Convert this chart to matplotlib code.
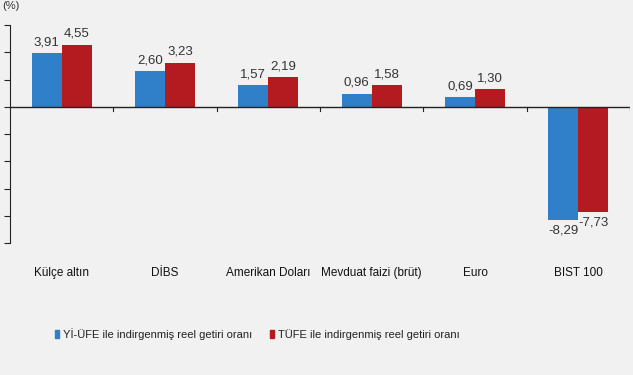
import matplotlib
matplotlib.use("Agg")
import matplotlib.pyplot as plt
import numpy as np

plt.rcParams["font.family"] = ["Liberation Sans", "DejaVu Sans"]

# ─── DATA ────────────────────────────────────────────────────────────────────
categories = ["Külçe altın", "DİBS", "Amerikan Doları", "Mevduat faizi (brüt)", "Euro", "BIST 100"]
yi_ufe = [3.91, 2.60, 1.57, 0.96, 0.69, -8.29]
tufe = [4.55, 3.23, 2.19, 1.58, 1.30, -7.73]
legend_labels = ["Yİ-ÜFE ile indirgenmiş reel getiri oranı", "TÜFE ile indirgenmiş reel getiri oranı"]

BG = "#f1f1f1"
BLUE = "#2f80c9"
RED = "#b31b20"
TXT = "#333333"

fig = plt.figure(figsize=(6.33, 3.75), dpi=100, facecolor=BG)
ax = fig.add_axes([10 / 633, 1 - 243 / 375, 620 / 633, 218 / 375], facecolor=BG)

x = np.arange(len(categories))
w = 0.29
b1 = ax.bar(x - w / 2, yi_ufe, w, color=BLUE, zorder=2)
b2 = ax.bar(x + w / 2, tufe, w, color=RED, zorder=2)

for bars, vals in ((b1, yi_ufe), (b2, tufe)):
    for bar, v in zip(bars, vals):
        cx = bar.get_x() + bar.get_width() / 2
        lab = f"{v:.2f}".replace(".", ",")
        if v >= 0:
            ax.text(cx, v + 0.35, lab, ha="center", va="bottom", fontsize=9.5, color=TXT)
        else:
            ax.text(cx, v - 0.35, lab, ha="center", va="top", fontsize=9.5, color=TXT)

ax.set_xlim(-0.5, len(categories) - 0.5)
ax.set_ylim(-10, 6)
ax.set_yticks(np.arange(-10, 7, 2))
# the tick labels sit off the left edge in the reference, so they are not drawn
ax.tick_params(axis="y", length=4, color="#222222", labelleft=False)
for s in ("top", "right", "bottom"):
    ax.spines[s].set_visible(False)
ax.spines["left"].set_color("#222222")

# zero line with ticks at the category boundaries
ax.axhline(0, color="#222222", lw=1.0, zorder=3)
for bx in np.arange(0.5, len(categories), 1.0):
    ax.plot([bx, bx], [0, -0.3], color="#222222", lw=0.8, zorder=3)
ax.set_xticks([])

# category names well below the plot
for xi, name in zip(x, categories):
    ax.text(xi, -12.2, name, ha="center", va="center", fontsize=8.5, color="#111111",
            clip_on=False)

fig.text(0.004, 0.997, "(%)", ha="left", va="top", fontsize=8, color=TXT)

# legend
h = [plt.Rectangle((0, 0), 1, 1, color=BLUE), plt.Rectangle((0, 0), 1, 1, color=RED)]
fig.legend(h, legend_labels, loc="lower left", bbox_to_anchor=(45 / 633, 1 - 350 / 375),
           ncol=2, frameon=False, fontsize=8, handlelength=0.4, handleheight=0.7,
           handletextpad=0.3, columnspacing=1.6, labelcolor="#222222")

fig.savefig("out.png", dpi=100, facecolor=BG)
